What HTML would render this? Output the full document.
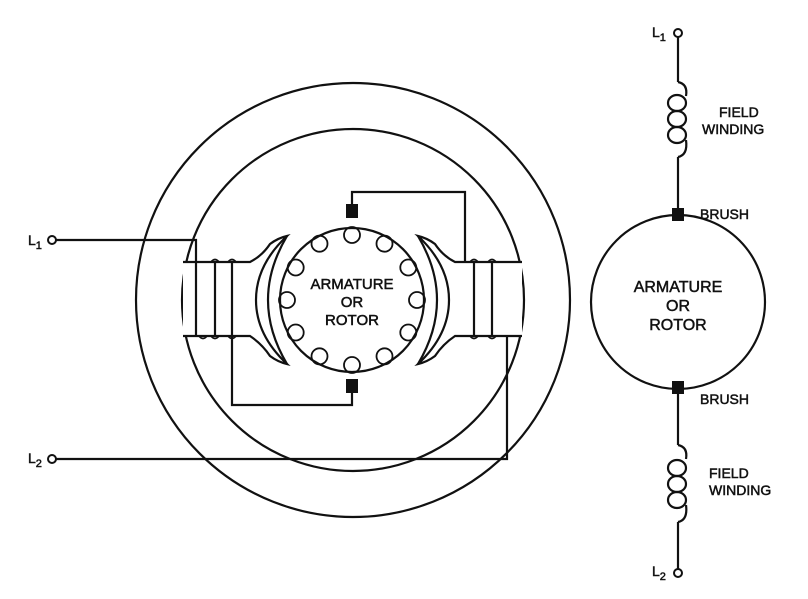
<!DOCTYPE html>
<html><head><meta charset="utf-8"><style>
html,body{margin:0;padding:0;background:#fff;}
svg{display:block;}
text{font-family:"Liberation Sans",Arial,sans-serif;fill:#111;stroke:#111;stroke-width:0.5;}
</style></head><body>
<svg width="808" height="599" viewBox="0 0 808 599" xmlns="http://www.w3.org/2000/svg">
<g fill="none" stroke="#111" stroke-width="2.2">
  <circle cx="353" cy="300" r="217"/>
  <circle cx="353" cy="300" r="171"/>
  <circle cx="352" cy="300" r="72"/>
  <!-- left pole -->
  <path d="M183,262 L250,262 Q262,256 270,244 Q278,238 287,236 Q256,265 256,300 Q256,335 287,364 Q278,362 270,356 Q262,344 250,336 L183,336" fill="#fff"/>
  <path d="M287,236 Q268,268 268,300 Q268,332 287,364"/>
  <!-- right pole -->
  <path d="M522,262 L455,262 Q443,256 435,244 Q427,238 418,236 Q449,265 449,300 Q449,335 418,364 Q427,362 435,356 Q443,344 455,336 L522,336" fill="#fff"/>
  <path d="M418,236 Q437,268 437,300 Q437,332 418,364"/>
  <!-- left coil -->
  <line x1="215" y1="262" x2="215" y2="336"/>
  <line x1="232" y1="262" x2="232" y2="336"/>
  <path d="M211,262 q4,-5 8,0 M228,262 q4,-5 8,0 M199,336 q4,5 8,0 M211,336 q4,5 8,0 M228,336 q4,5 8,0" stroke-width="1.8"/>
  <!-- right coil -->
  <line x1="474" y1="262" x2="474" y2="336"/>
  <line x1="492" y1="262" x2="492" y2="336"/>
  <path d="M470,262 q4,-5 8,0 M488,262 q4,-5 8,0 M470,336 q4,5 8,0 M488,336 q4,5 8,0" stroke-width="1.8"/>
  <!-- wiring -->
  <polyline points="56,240 196,240 196,336"/>
  <polyline points="232,336 232,405 352,405 352,392"/>
  <polyline points="352,204 352,192 465,192 465,262"/>
  <polyline points="56,459 507,459 507,336"/>
  <circle cx="52" cy="240" r="4" stroke-width="2"/>
  <circle cx="52" cy="459" r="4" stroke-width="2"/>
  <!-- holes -->
  <g stroke-width="1.8">
    <circle cx="352" cy="235" r="8"/>
    <circle cx="384.5" cy="243.7" r="8"/>
    <circle cx="408.3" cy="267.5" r="8"/>
    <circle cx="417" cy="300" r="8"/>
    <circle cx="408.3" cy="332.5" r="8"/>
    <circle cx="384.5" cy="356.3" r="8"/>
    <circle cx="352" cy="365" r="8"/>
    <circle cx="319.5" cy="356.3" r="8"/>
    <circle cx="295.7" cy="332.5" r="8"/>
    <circle cx="287" cy="300" r="8"/>
    <circle cx="295.7" cy="267.5" r="8"/>
    <circle cx="319.5" cy="243.7" r="8"/>
  </g>
  <!-- schematic -->
  <circle cx="678" cy="302" r="87"/>
  <line x1="678" y1="37" x2="678" y2="82"/>
  <path d="M678,82 Q688,84 686,96"/>
  <ellipse cx="677" cy="103" rx="9" ry="8"/>
  <ellipse cx="677" cy="119" rx="9" ry="8"/>
  <ellipse cx="677" cy="135" rx="9" ry="8"/>
  <path d="M686,140 Q688,155 678,157"/>
  <line x1="678" y1="157" x2="678" y2="209"/>
  <line x1="678" y1="392" x2="678" y2="445"/>
  <path d="M678,445 Q688,447 686,459"/>
  <ellipse cx="677" cy="468" rx="9" ry="8"/>
  <ellipse cx="677" cy="484" rx="9" ry="8"/>
  <ellipse cx="677" cy="500" rx="9" ry="8"/>
  <path d="M686,505 Q688,520 678,522"/>
  <line x1="678" y1="522" x2="678" y2="569"/>
  <circle cx="678" cy="33" r="4" stroke-width="2"/>
  <circle cx="678" cy="573" r="4" stroke-width="2"/>
</g>
<g fill="#111">
  <rect x="346" y="204" width="12" height="14"/>
  <rect x="346" y="379" width="12" height="14"/>
  <rect x="672" y="208" width="12" height="13"/>
  <rect x="672" y="381" width="12" height="13"/>
</g>
<g font-size="15" text-anchor="middle">
  <text x="352" y="289">ARMATURE</text>
  <text x="352" y="307">OR</text>
  <text x="352" y="325">ROTOR</text>
  <text x="678" y="292" font-size="16">ARMATURE</text>
  <text x="678" y="311" font-size="16">OR</text>
  <text x="678" y="330" font-size="16">ROTOR</text>
</g>
<g font-size="14">
  <text x="719" y="117">FIELD</text>
  <text x="702" y="134">WINDING</text>
  <text x="700" y="219">BRUSH</text>
  <text x="700" y="404">BRUSH</text>
  <text x="709" y="478">FIELD</text>
  <text x="709" y="495">WINDING</text>
  <text x="28" y="245">L<tspan font-size="11" dy="4">1</tspan></text>
  <text x="28" y="463">L<tspan font-size="11" dy="4">2</tspan></text>
  <text x="652" y="37">L<tspan font-size="11" dy="4">1</tspan></text>
  <text x="652" y="576">L<tspan font-size="11" dy="4">2</tspan></text>
</g>
</svg>
</body></html>
